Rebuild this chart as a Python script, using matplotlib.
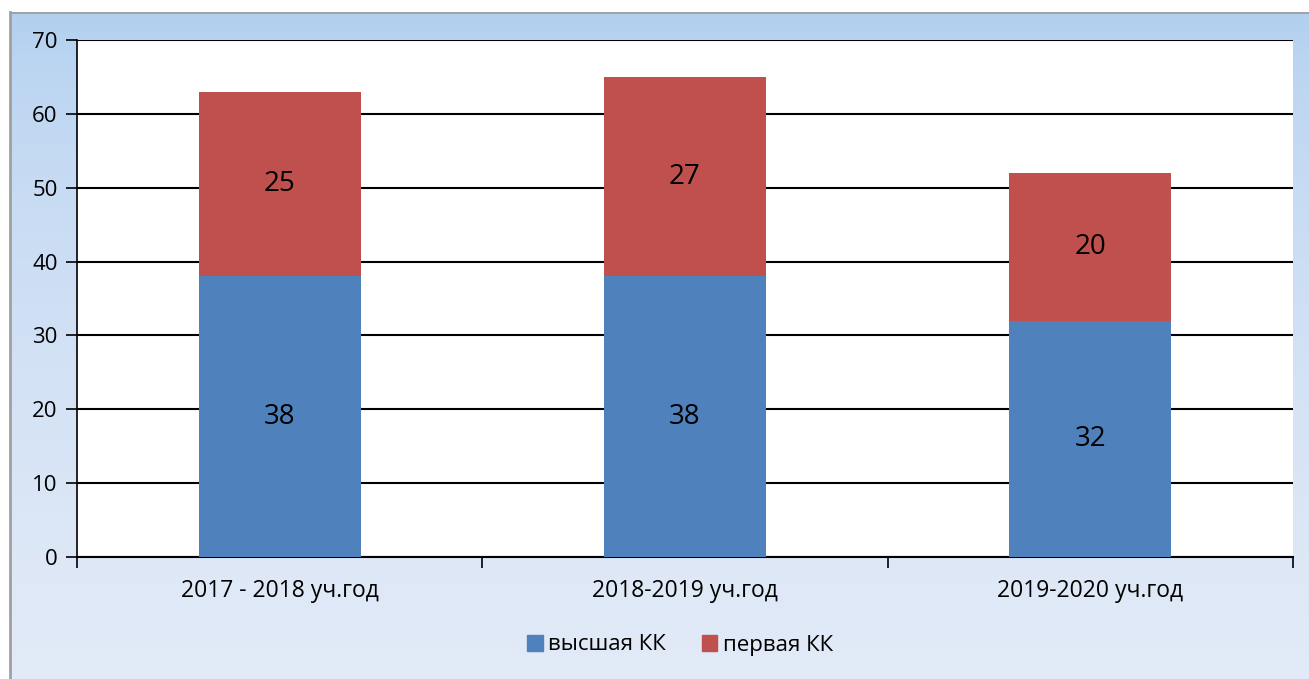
import numpy as np
import matplotlib.pyplot as plt
from matplotlib.patches import Patch

plt.rcParams['font.family'] = ['Open Sans', 'DejaVu Sans']

years = ["2017 - 2018 уч.год", "2018-2019 уч.год", "2019-2020 уч.год"]
vysshaya = [38, 38, 32]
pervaya = [25, 27, 20]
series_names = ["высшая КК", "первая КК"]

W, H = 1309, 679
fig = plt.figure(figsize=(W / 100, H / 100), dpi=100)
fig.patch.set_facecolor("white")

# gradient frame behind the chart
bg = fig.add_axes([10 / W, 0, 1 - 10 / W, (H - 12) / H])
grad = np.linspace(0, 1, 256).reshape(-1, 1)
top = np.array([0.69, 0.81, 0.94])
bot = np.array([0.89, 0.92, 0.97])
img = top + (bot - top) * grad[:, :, None] ** 0.6
bg.imshow(img, aspect="auto", extent=[0, 1, 0, 1])
bg.set_xlim(0, 1)
bg.set_ylim(0, 1)
bg.set_xticks([])
bg.set_yticks([])
for s in ["top", "bottom", "right"]:
    bg.spines[s].set_visible(False)
bg.spines["left"].set_color("#a0a0a0")
bg.spines["left"].set_linewidth(2)
bg.axhline(1, color="#a0a0a0", lw=2)

# main plot area
x0, x1 = 77, 1293
y0, y1 = 557, 40
ax = fig.add_axes([x0 / W, 1 - y0 / H, (x1 - x0) / W, (y0 - y1) / H])
ax.set_facecolor("white")

x = np.arange(len(years))
b1 = ax.bar(x, vysshaya, width=0.4, color="#4f81bd", zorder=3)
b2 = ax.bar(x, pervaya, width=0.4, bottom=vysshaya, color="#c0504d", zorder=3)
ax.bar_label(b1, labels=[str(v) for v in vysshaya], label_type="center", fontsize=20)
ax.bar_label(b2, labels=[str(v) for v in pervaya], label_type="center", fontsize=20)

ax.set_xlim(-0.5, len(years) - 0.5)
ax.set_ylim(0, 70)
ax.set_yticks(range(0, 71, 10))
ax.yaxis.grid(True, color="black", lw=1.5, zorder=1)
ax.set_axisbelow(True)
ax.tick_params(axis="y", length=8, width=1.2, labelsize=16, pad=6)

ax.set_xticks(x)
ax.set_xticklabels(years, fontsize=16.5)
ax.tick_params(axis="x", length=0, pad=16)
ax.set_xticks(np.arange(-0.5, len(years), 1), minor=True)
ax.tick_params(axis="x", which="minor", length=8, width=1.2)

for s in ["top", "right"]:
    ax.spines[s].set_visible(False)
ax.spines["left"].set_linewidth(1.2)
ax.spines["bottom"].set_linewidth(1.5)

handles = [Patch(color="#4f81bd", label=series_names[0]),
           Patch(color="#c0504d", label=series_names[1])]
fig.legend(handles=handles, loc="center", bbox_to_anchor=(680 / W, 1 - 645 / H),
           ncol=2, frameon=False, fontsize=16, handlelength=0.7, handleheight=0.7,
           handletextpad=0.25, columnspacing=1.6)

fig.savefig("out.png", dpi=100)
